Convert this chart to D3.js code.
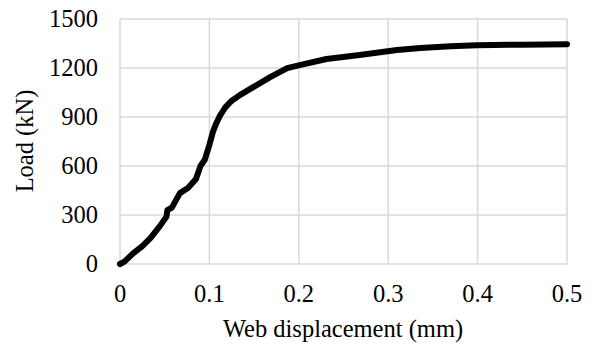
<!DOCTYPE html>
<html>
<head>
<meta charset="utf-8">
<script src="https://cdn.jsdelivr.net/npm/d3@7"></script>
<style>
  body { margin: 0; background: #fff; }
  text { font-family: "Liberation Serif", "Times New Roman", serif; fill: #000; }
</style>
</head>
<body>
<div id="chart"></div>
<script>
// displacement (mm) and load (kN)
const displacement = [0, 0.005, 0.015, 0.025, 0.034, 0.045, 0.052, 0.053, 0.058, 0.067, 0.076, 0.085,
  0.090, 0.095, 0.100, 0.104, 0.108, 0.112, 0.118, 0.125, 0.134, 0.149, 0.168, 0.187, 0.201, 0.231,
  0.268, 0.310, 0.336, 0.370, 0.399, 0.45, 0.5];
const load = [0, 15, 67, 110, 159, 235, 290, 330, 345, 434, 465, 520,
  600, 640, 730, 810, 865, 910, 960, 1000, 1034, 1083, 1144, 1199, 1218, 1255,
  1279, 1310, 1322, 1333, 1340, 1343, 1346];
const xTicks = [0, 0.1, 0.2, 0.3, 0.4, 0.5];
const yTicks = [0, 300, 600, 900, 1200, 1500];

const width = 592, height = 347;
const margin = {left: 120, right: 25, top: 19, bottom: 83};
const fontSize = 24.5;

const svg = d3.select("#chart").append("svg").attr("width", width).attr("height", height);

const x = d3.scaleLinear().domain([0, 0.5]).range([margin.left, width - margin.right]);
const y = d3.scaleLinear().domain([0, 1500]).range([height - margin.bottom, margin.top]);

// gridlines
svg.append("g").selectAll("line").data(yTicks).join("line")
    .attr("x1", x(0)).attr("x2", x(0.5))
    .attr("y1", d => y(d)).attr("y2", d => y(d))
    .attr("stroke", "#d9d9d9").attr("stroke-width", 1.5);
svg.append("g").selectAll("line").data(xTicks).join("line")
    .attr("x1", d => x(d)).attr("x2", d => x(d))
    .attr("y1", y(0)).attr("y2", y(1500))
    .attr("stroke", "#d9d9d9").attr("stroke-width", 1.5);

// tick labels
svg.append("g").selectAll("text").data(yTicks).join("text")
    .attr("x", 98).attr("y", d => y(d) + 8)
    .attr("text-anchor", "end").attr("font-size", fontSize)
    .text(d => d);
svg.append("g").selectAll("text").data(xTicks).join("text")
    .attr("x", d => x(d)).attr("y", 302)
    .attr("text-anchor", "middle").attr("font-size", fontSize)
    .text(d => d);

// axis titles
svg.append("text").attr("x", 343).attr("y", 337)
    .attr("text-anchor", "middle").attr("font-size", fontSize)
    .text("Web displacement (mm)");
svg.append("text").attr("transform", "translate(33,141) rotate(-90)")
    .attr("text-anchor", "middle").attr("font-size", fontSize)
    .text("Load (kN)");

const pts = displacement.map((d, i) => [d, load[i]]);
const line = d3.line().x(d => x(d[0])).y(d => y(d[1]));
svg.append("path").datum(pts)
    .attr("d", line)
    .attr("fill", "none").attr("stroke", "#000")
    .attr("stroke-width", 6).attr("stroke-linejoin", "round").attr("stroke-linecap", "round");
</script>
</body>
</html>
